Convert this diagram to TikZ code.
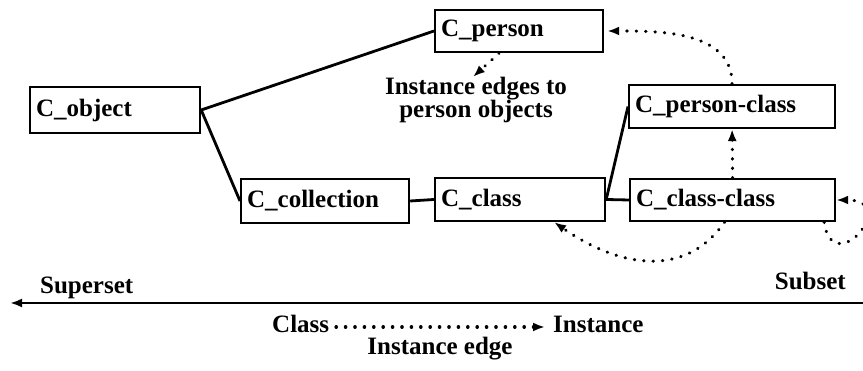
\documentclass[tikz,border=0pt]{standalone}
\usepackage{fontspec}
\setmainfont{Liberation Serif}
\usetikzlibrary{arrows.meta}
\begin{document}
\begin{tikzpicture}[x=1pt,y=1pt,
  every node/.style={font=\fontsize{25}{27}\selectfont\bfseries},
  cbox/.style={draw, line width=2.2pt, inner xsep=6pt, inner ysep=0pt, minimum height=43pt, anchor=west, align=left},
  solidline/.style={line width=2.8pt},
  inst/.style={line width=3.2pt, dash pattern=on 0.4pt off 9pt, line cap=round, -{Latex[length=12pt,width=9pt]}}]
\useasboundingbox (0,0) rectangle (863,371);
\clip (0,0) rectangle (863,371);
% boxes
\node[cbox, text width=158pt, minimum height=46pt] (obj) at (29,261) {C\_object};
\node[cbox, text width=156pt, minimum height=42pt] (per) at (434,340) {C\_person};
\node[cbox, text width=194pt] (pc) at (628,264.5) {C\_person-class};
\node[cbox, text width=156pt, minimum height=44pt] (coll) at (240,170) {C\_collection};
\node[cbox, text width=158pt] (cls) at (434,171.5) {C\_class};
\node[cbox, text width=193pt, minimum height=42pt] (ccc) at (629,171) {C\_class-class};
% label
\node[align=center, inner sep=0pt, font=\fontsize{25}{23}\selectfont\bfseries] (lbl) at (476,271) {Instance edges to\\person objects};
% solid connectors
\draw[solidline] (obj.east) -- (per.west);
\draw[solidline] (obj.east) -- (coll.west);
\draw[solidline] (coll.east) -- (cls.west);
\draw[solidline] (cls.east) -- (ccc.west);
\draw[solidline] (cls.east) -- (pc.west);
% instance edges
\draw[inst] ([xshift=-20pt]per.south) -- ([xshift=-3pt]lbl.north);
\draw[inst] (pc.north) to[out=90,in=0] ([xshift=3pt]per.east);
\draw[inst] (ccc.north) -- (pc.south);
\draw[inst] ([xshift=-8pt]ccc.south) to[out=-125,in=-35,looseness=1.1] ([xshift=34pt]cls.south);
\draw[inst] ([xshift=-12pt]ccc.south east) .. controls +(8,-59) and +(66,0) .. (ccc.east);
% axis
\node[anchor=base west, inner sep=0pt] (sup) at (40,77) {Superset};
\node[anchor=base east, inner sep=0pt] (sub) at (846,81) {Subset};
\coordinate (axl) at (10,68);
\coordinate (axr) at (866,68);
\draw[line width=2.8pt, {Latex[length=12pt,width=9pt]}-] (axl) -- (axr);
% legend
\node[anchor=base west, inner sep=0pt] (lc) at (272,38) {Class};
\node[anchor=base west, inner sep=0pt] (li) at (553,38) {Instance};
\node[anchor=base, inner sep=0pt] (le) at (440,16) {Instance edge};
\coordinate (la) at (336,44);
\coordinate (lb) at (545,44);
\draw[inst] (la) -- (lb);
\end{tikzpicture}
\end{document}
